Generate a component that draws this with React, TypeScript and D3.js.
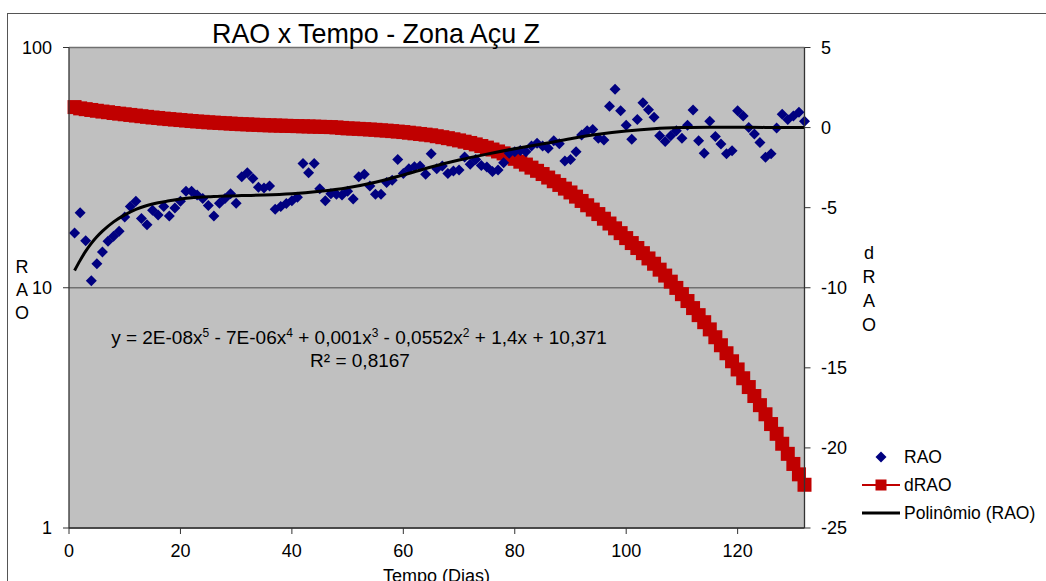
import React from "react";
import * as d3 from "d3";

// RAO observations, one per day starting at day 1
const RAO: number[] = [
  16.9, 20.5, 15.7, 10.7, 12.6, 14.1, 15.6, 16.4, 17.2, 19.7,
  21.8, 22.9, 19.4, 18.3, 21.0, 20.1, 21.8, 19.9, 21.5, 22.9,
  25.2, 25.2, 24.3, 23.5, 22.0, 19.9, 22.5, 23.5, 24.6, 22.5,
  29.0, 30.1, 28.5, 26.2, 26.0, 26.5, 21.2, 21.8, 22.4, 23.0,
  23.8, 32.9, 30.1, 32.9, 25.8, 23.0, 24.6, 24.5, 24.3, 25.2,
  23.4, 29.0, 29.7, 26.5, 24.5, 24.5, 27.4, 28.0, 34.2, 29.9,
  31.3, 31.9, 32.1, 29.7, 36.1, 31.3, 32.1, 29.9, 30.6, 30.9,
  35.0, 32.7, 34.2, 32.3, 31.8, 30.5, 30.9, 33.1, 36.3, 36.8,
  37.3, 36.8, 38.9, 39.9, 38.9, 38.1, 40.9, 39.8, 33.7, 34.2,
  36.8, 43.2, 45.0, 45.6, 41.9, 41.2, 57.0, 67.0, 54.5, 47.5,
  41.5, 50.1, 58.9, 55.1, 51.3, 42.9, 40.6, 42.9, 45.0, 41.9,
  47.5, 54.9, 40.9, 36.3, 49.3, 42.6, 39.7, 36.1, 37.2, 54.5,
  51.9, 46.5, 43.6, 40.2, 34.9, 36.1, 46.2, 52.8, 50.1, 51.9,
  53.7, 49.3,
];

// dRAO, one per day starting at day 1 (right axis)
const DRAO: number[] = [
  1.28, 1.20, 1.15, 1.10, 1.05, 1.00, 0.96, 0.91, 0.87, 0.83,
  0.79, 0.75, 0.71, 0.67, 0.63, 0.60, 0.56, 0.53, 0.50, 0.47,
  0.44, 0.41, 0.38, 0.36, 0.33, 0.31, 0.29, 0.27, 0.25, 0.23,
  0.21, 0.20, 0.18, 0.17, 0.15, 0.14, 0.13, 0.12, 0.11, 0.10,
  0.09, 0.08, 0.07, 0.06, 0.05, 0.04, 0.03, 0.01, -0.02, -0.05,
  -0.06, -0.08, -0.10, -0.12, -0.14, -0.17, -0.19, -0.22, -0.25, -0.28,
  -0.32, -0.36, -0.40, -0.44, -0.48, -0.54, -0.60, -0.66, -0.73, -0.80,
  -0.88, -0.96, -1.05, -1.15, -1.25, -1.37, -1.49, -1.61, -1.78, -1.95,
  -2.13, -2.31, -2.50, -2.70, -2.90, -3.12, -3.35, -3.58, -3.81, -4.05,
  -4.31, -4.58, -4.85, -5.12, -5.40, -5.69, -5.99, -6.29, -6.59, -6.90,
  -7.21, -7.52, -7.84, -8.17, -8.50, -8.87, -9.24, -9.62, -10.01, -10.40,
  -10.83, -11.27, -11.71, -12.15, -12.60, -13.09, -13.59, -14.09, -14.59, -15.10,
  -15.65, -16.20, -16.76, -17.33, -17.90, -18.51, -19.12, -19.74, -20.37, -21.00,
  -21.65, -22.30,
];

// Polynomial trendline (RAO)
const TREND_DAYS: number[] = [1, 2, 3, 4, 5, 6, 8, 10, 12, 14, 16, 18, 20, 22, 25, 28, 31, 35, 40, 45, 50, 55, 60, 65, 70, 75, 80, 85, 90, 95, 100, 105, 110, 115, 120, 125, 132];
const TREND_VALUES: number[] = [11.8, 13.0, 14.2, 15.3, 16.3, 17.2, 18.8, 20.1, 21.2, 22.0, 22.6, 23.0, 23.4, 23.7, 23.9, 24.1, 24.2, 24.3, 24.6, 25.2, 26.1, 27.5, 29.5, 31.8, 34.0, 36.0, 37.9, 39.7, 41.7, 43.5, 44.9, 45.9, 46.4, 46.6, 46.6, 46.5, 46.5];

const X_TICKS: number[] = [0, 20, 40, 60, 80, 100, 120];
const LEFT_TICKS: number[] = [1, 10, 100];
const RIGHT_TICKS: number[] = [5, 0, -5, -10, -15, -20, -25];

const TITLE = "RAO x Tempo - Zona Açu Z";
const X_LABEL = "Tempo (Dias)";
const LEGEND = ["RAO", "dRAO", "Polinômio (RAO)"];

export default function App() {
  const left = 69, right = 804.5, top = 47.5, bottom = 528;
  const x = d3.scaleLinear().domain([0, 132]).range([left, right]);
  const yL = d3.scaleLog().domain([1, 100]).range([bottom, top]);
  const yR = d3.scaleLinear().domain([-25, 5]).range([bottom, top]);
  const font = "'Liberation Sans', Arial, sans-serif";

  const trendLine = d3
    .line<number>()
    .x((_, i) => x(TREND_DAYS[i]))
    .y((d) => yL(d))
    .curve(d3.curveMonotoneX)(TREND_VALUES) as string;

  const diamond = (cx: number, cy: number, r: number) =>
    `M${cx},${cy - r}L${cx + r},${cy}L${cx},${cy + r}L${cx - r},${cy}Z`;

  const sq = 14;

  return (
    <svg
      width={1046}
      height={581}
      style={{ position: "absolute", left: 0, top: 0, background: "#fff" }}
      fontFamily={font}
    >
      <rect x={7.5} y={13.5} width={1100} height={700} fill="#fff" stroke="#555" strokeWidth={1} />
      {/* plot area */}
      <rect x={left} y={top} width={right - left} height={bottom - top} fill="#C0C0C0" />
      {/* gridlines */}
      {LEFT_TICKS.map((t) => (
        <line key={"g" + t} x1={left} x2={right} y1={yL(t)} y2={yL(t)} stroke="#707070" strokeWidth={1.3} />
      ))}
      {/* dRAO squares */}
      <g fill="#C00000">
        {DRAO.map((v, i) => (
          <rect key={"d" + i} x={x(i + 1) - sq / 2} y={yR(v) - sq / 2} width={sq} height={sq} />
        ))}
      </g>
      {/* RAO diamonds */}
      <g fill="#000080">
        {RAO.map((v, i) => (
          <path key={"r" + i} d={diamond(x(i + 1), yL(v), 5.5)} />
        ))}
      </g>
      {/* trendline */}
      <path d={trendLine} fill="none" stroke="#000" strokeWidth={3} />
      {/* axes lines */}
      <line x1={left} x2={left} y1={top} y2={bottom} stroke="#333" strokeWidth={1.3} />
      <line x1={right} x2={right} y1={top} y2={bottom} stroke="#333" strokeWidth={1.3} />
      <line x1={left} x2={right} y1={bottom} y2={bottom} stroke="#333" strokeWidth={1.3} />
      {/* left ticks */}
      {LEFT_TICKS.map((t) => (
        <g key={"lt" + t}>
          <line x1={left - 6} x2={left} y1={yL(t)} y2={yL(t)} stroke="#333" />
          <text x={52} y={yL(t) + 6} fontSize={18} textAnchor="end">{t}</text>
        </g>
      ))}
      {/* right ticks */}
      {RIGHT_TICKS.map((t) => (
        <g key={"rt" + t}>
          <line x1={right} x2={right + 6} y1={yR(t)} y2={yR(t)} stroke="#333" />
          <text x={821} y={yR(t) + 6} fontSize={18} textAnchor="start">{t}</text>
        </g>
      ))}
      {/* x ticks */}
      {X_TICKS.map((t) => (
        <g key={"xt" + t}>
          <line x1={x(t)} x2={x(t)} y1={bottom} y2={bottom + 6} stroke="#333" />
          <text x={x(t)} y={557} fontSize={18} textAnchor="middle">{t}</text>
        </g>
      ))}
      {/* axis titles */}
      <text x={436.5} y={582} fontSize={18} textAnchor="middle">{X_LABEL}</text>
      {"RAO".split("").map((c, i) => (
        <text key={"la" + i} x={22} y={273 + i * 23} fontSize={18} textAnchor="middle">{c}</text>
      ))}
      {"dRAO".split("").map((c, i) => (
        <text key={"ra" + i} x={869} y={259 + i * 24} fontSize={18} textAnchor="middle">{c}</text>
      ))}
      {/* title */}
      <text x={376} y={43} fontSize={28} textAnchor="middle" textLength={328} lengthAdjust="spacingAndGlyphs">{TITLE}</text>
      {/* equation */}
      <text x={359} y={344} fontSize={19} textAnchor="middle">
        <tspan>y = 2E-08x</tspan>
        <tspan fontSize={12} dy={-7}>5</tspan>
        <tspan dy={7}> - 7E-06x</tspan>
        <tspan fontSize={12} dy={-7}>4</tspan>
        <tspan dy={7}> + 0,001x</tspan>
        <tspan fontSize={12} dy={-7}>3</tspan>
        <tspan dy={7}> - 0,0552x</tspan>
        <tspan fontSize={12} dy={-7}>2</tspan>
        <tspan dy={7}> + 1,4x + 10,371</tspan>
      </text>
      <text x={360} y={367} fontSize={19} textAnchor="middle">R² = 0,8167</text>
      {/* legend */}
      <path d={diamond(881, 457, 5.5)} fill="#000080" />
      <text x={904} y={463} fontSize={17.5}>{LEGEND[0]}</text>
      <line x1={862} x2={900} y1={485} y2={485} stroke="#C00000" strokeWidth={2} />
      <rect x={881 - 5.5} y={485 - 5.5} width={11} height={11} fill="#C00000" />
      <text x={904} y={491} fontSize={17.5}>{LEGEND[1]}</text>
      <line x1={862} x2={900} y1={513} y2={513} stroke="#000" strokeWidth={3} />
      <text x={904} y={519} fontSize={17.5}>{LEGEND[2]}</text>
    </svg>
  );
}
